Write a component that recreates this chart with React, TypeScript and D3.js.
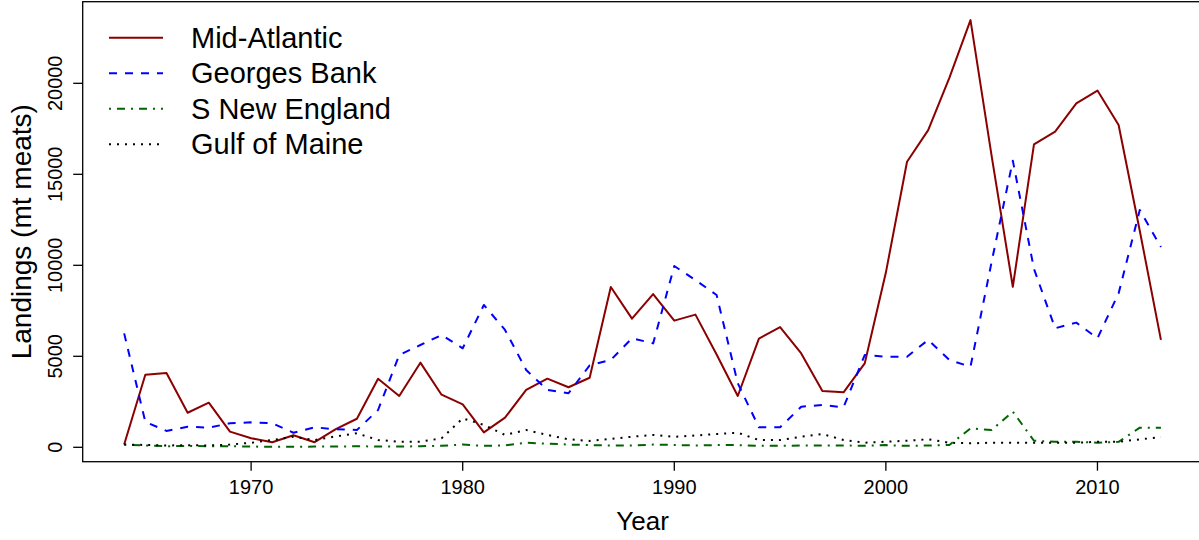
import React from "react";
import * as d3 from "d3";

const years: number[] = d3.range(1964, 2014);

const midAtlantic: number[] = [
  150, 3990, 4080, 1900, 2450, 860, 500, 280, 660, 280,
  1000, 1570, 3770, 2820, 4650, 2890, 2360, 820, 1630, 3150,
  3770, 3300, 3820, 8810, 7070, 8420, 6960, 7290, 5100, 2820,
  5970, 6610, 5160, 3090, 3020, 4610, 9600, 15690, 17430, 20300,
  23470, 16000, 8820, 16650, 17340, 18900, 19600, 17710, 11900, 5900,
];

const georgesBank: number[] = [
  6260, 1400, 900, 1130, 1080, 1320, 1370, 1320, 800, 1100,
  990, 950, 2050, 5070, 5620, 6170, 5440, 7820, 6450, 4250,
  3150, 2970, 4500, 4800, 5990, 5710, 9960, 9190, 8370, 3520,
  1100, 1100, 2230, 2320, 2200, 5070, 4980, 4980, 5900, 4800,
  4430, 10200, 15750, 9800, 6540, 6850, 5990, 8460, 13040, 11000,
];

const sNewEngland: number[] = [
  150, 100, 60, 80, 50, 60, 40, 30, 30, 40,
  40, 60, 40, 40, 60, 80, 150, 80, 100, 250,
  200, 150, 120, 100, 100, 150, 130, 100, 120, 120,
  80, 80, 100, 100, 100, 80, 120, 80, 100, 125,
  1040, 950, 1960, 360, 300, 300, 250, 300, 1080, 1080,
];

const gulfOfMaine: number[] = [
  150, 130, 100, 120, 100, 150, 250, 400, 580, 400,
  600, 770, 400, 310, 310, 490, 1590, 1230, 680, 950,
  680, 440, 350, 460, 580, 680, 580, 650, 730, 800,
  400, 400, 580, 730, 400, 250, 310, 360, 440, 250,
  220, 250, 250, 250, 250, 250, 300, 300, 440, 550,
];

const seriesNames: string[] = ["Mid-Atlantic", "Georges Bank", "S New England", "Gulf of Maine"];
const seriesColors: string[] = ["#8B0000", "#0000FF", "#006400", "#000000"];
const seriesDash: string[] = ["none", "8,8", "2,6,8,6", "2,6"];
const seriesValues: number[][] = [midAtlantic, georgesBank, sNewEngland, gulfOfMaine];

const xTicks: number[] = [1970, 1980, 1990, 2000, 2010];
const yTicks: number[] = [0, 5000, 10000, 15000, 20000];

const W = 1199;
const H = 540;
const left = 82.7;
const right = 1202.4;
const top = 1.7;
const bottom = 461.7;

export default function App() {
  const x = d3.scaleLinear().domain([1962.04, 2014.96]).range([left, right]);
  const y = d3.scaleLinear().domain([-791, 24484]).range([bottom, top]);
  const line = d3
    .line<number>()
    .x((_, i) => x(years[i]))
    .y((d) => y(d));

  const font = "'Liberation Sans', Arial, sans-serif";

  return (
    <svg
      width={W}
      height={H}
      style={{ position: "absolute", left: 0, top: 0, background: "#fff" }}
      fontFamily={font}
    >
      <rect x={0} y={0} width={W} height={H} fill="#fff" />
      <rect
        x={left}
        y={top}
        width={1210 - left}
        height={bottom - top}
        fill="none"
        stroke="#000"
        strokeWidth={1.3}
      />
      {seriesValues.map((vals, k) => (
        <path
          key={seriesNames[k]}
          d={line(vals) || ""}
          fill="none"
          stroke={seriesColors[k]}
          strokeWidth={2}
          strokeDasharray={seriesDash[k]}
          strokeLinejoin="round"
        />
      ))}
      {xTicks.map((t) => (
        <g key={t}>
          <line x1={x(t)} x2={x(t)} y1={bottom} y2={bottom + 9} stroke="#000" strokeWidth={1.3} />
          <text x={x(t)} y={494.3} fontSize={20} textAnchor="middle" fill="#000">
            {t}
          </text>
        </g>
      ))}
      <text x={(left + right) / 2} y={529.7} fontSize={26} textAnchor="middle" fill="#000">
        Year
      </text>
      {yTicks.map((t) => (
        <g key={t}>
          <line x1={left - 9.5} x2={left} y1={y(t)} y2={y(t)} stroke="#000" strokeWidth={1.3} />
          <text
            transform={`translate(61.7,${y(t)}) rotate(-90)`}
            fontSize={20}
            textAnchor="middle"
            fill="#000"
          >
            {t}
          </text>
        </g>
      ))}
      <text
        transform={`translate(31,${(top + bottom) / 2}) rotate(-90)`}
        fontSize={28}
        textAnchor="middle"
        fill="#000"
      >
        Landings (mt meats)
      </text>
      {seriesNames.map((name, k) => {
        const ly = 37.7 + k * 35.5;
        return (
          <g key={name}>
            <line
              x1={109}
              x2={163}
              y1={ly}
              y2={ly}
              stroke={seriesColors[k]}
              strokeWidth={2}
              strokeDasharray={seriesDash[k]}
            />
            <text x={191} y={ly + 10} fontSize={29} fill="#000">
              {name}
            </text>
          </g>
        );
      })}
    </svg>
  );
}
